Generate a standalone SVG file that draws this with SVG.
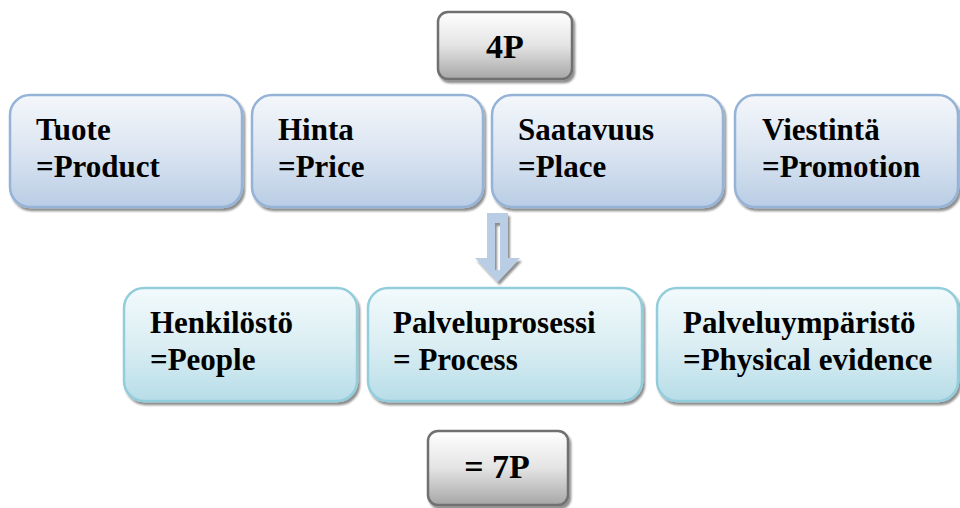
<svg xmlns="http://www.w3.org/2000/svg" width="960" height="508" viewBox="0 0 960 508">
<defs>
<linearGradient id="gBlue" x1="0" y1="0" x2="0" y2="1">
<stop offset="0" stop-color="#f4f7fb"/>
<stop offset="0.5" stop-color="#dbe5f1"/>
<stop offset="1" stop-color="#b9cde5"/>
</linearGradient>
<linearGradient id="gAqua" x1="0" y1="0" x2="0" y2="1">
<stop offset="0" stop-color="#f2fafc"/>
<stop offset="0.5" stop-color="#dbeef3"/>
<stop offset="1" stop-color="#b7dde8"/>
</linearGradient>
<linearGradient id="gGray" x1="0" y1="0" x2="0" y2="1">
<stop offset="0" stop-color="#ffffff"/>
<stop offset="0.5" stop-color="#e4e4e4"/>
<stop offset="1" stop-color="#a6a6a6"/>
</linearGradient>
<filter id="sh" x="-10%" y="-10%" width="120%" height="130%">
<feGaussianBlur in="SourceAlpha" stdDeviation="1.2"/>
<feOffset dx="2" dy="3" result="o"/>
<feComponentTransfer><feFuncA type="linear" slope="0.45"/></feComponentTransfer>
<feMerge><feMergeNode/><feMergeNode in="SourceGraphic"/></feMerge>
</filter>
</defs>
<style>
.blue{fill:url(#gBlue);stroke:#95b3d7;stroke-width:2.5}
.aqua{fill:url(#gAqua);stroke:#92cddc;stroke-width:2.5}
.gray{fill:url(#gGray);stroke:#6f6f6f;stroke-width:2.5}
text{font-family:"Liberation Serif",Tinos,"Times New Roman",Times,"Nimbus Roman","DejaVu Serif","Noto Serif",FreeSerif,serif;font-weight:700;fill:#000}
.t{font-size:31px}
.big{font-size:34px}
</style>
<g id="p4">
<rect class="gray" x="438" y="12" width="134" height="67" rx="10" filter="url(#sh)"/>
<text class="big" x="505" y="58" text-anchor="middle">4P</text>
</g>
<g id="tuote">
<rect class="blue" x="10" y="95" width="232" height="112" rx="20" filter="url(#sh)"/>
<text class="t" x="36" y="140">Tuote</text>
<text class="t" x="36" y="177">=Product</text>
</g>
<g id="hinta">
<rect class="blue" x="252" y="95" width="231" height="112" rx="20" filter="url(#sh)"/>
<text class="t" x="278" y="140">Hinta</text>
<text class="t" x="278" y="177">=Price</text>
</g>
<g id="saatavuus">
<rect class="blue" x="492" y="95" width="231" height="112" rx="20" filter="url(#sh)"/>
<text class="t" x="518" y="140">Saatavuus</text>
<text class="t" x="518" y="177">=Place</text>
</g>
<g id="viestinta">
<rect class="blue" x="735" y="95" width="223" height="112" rx="20" filter="url(#sh)"/>
<text class="t" x="762" y="140">Viestintä</text>
<text class="t" x="762" y="177">=Promotion</text>
</g>
<g id="connectors">
<path d="M487 213 H508 V258 H520 L497.5 282 L475 258 H487 Z M495 223 V270 H500 V223 Z" fill="#b9cde5" fill-rule="evenodd" filter="url(#sh)"/>
</g>
<g id="henkilosto">
<rect class="aqua" x="124" y="288" width="233" height="113" rx="20" filter="url(#sh)"/>
<text class="t" x="150" y="333">Henkilöstö</text>
<text class="t" x="150" y="370">=People</text>
</g>
<g id="palveluprosessi">
<rect class="aqua" x="368" y="288" width="274" height="113" rx="20" filter="url(#sh)"/>
<text class="t" x="393" y="333">Palveluprosessi</text>
<text class="t" x="393" y="370">= Process</text>
</g>
<g id="palveluymparisto">
<rect class="aqua" x="657" y="288" width="301" height="113" rx="20" filter="url(#sh)"/>
<text class="t" x="683" y="333">Palveluympäristö</text>
<text class="t" x="683" y="370">=Physical evidence</text>
</g>
<g id="p7">
<rect class="gray" x="428" y="431" width="140" height="74" rx="10" filter="url(#sh)"/>
<text class="big" x="497" y="478" text-anchor="middle">= 7P</text>
</g>
</svg>
